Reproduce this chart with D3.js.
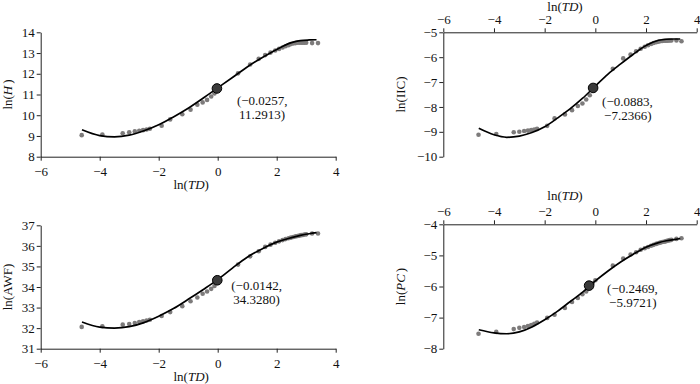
<!DOCTYPE html>
<html lang="zh">

<head>
    <meta charset="UTF-8">
    <title>ln(TD) curves</title>
    <script src="https://cdn.jsdelivr.net/npm/d3@7/dist/d3.min.js"></script>
    <style>
        body { margin: 0; background: #fff; }
    </style>
</head>

<body>
    <script>
        // ln(TD) of the sample points (shared by the four panels)
        var ptX = [-4.61, -3.91, -3.22, -3.0, -2.81, -2.66, -2.53, -2.41, -2.3, -1.9, -1.61, -1.2, -0.92, -0.69, -0.51, -0.36, -0.22, -0.11, 0,
            0.69, 1.1, 1.39, 1.61, 1.79, 1.95, 2.08, 2.2, 2.3, 2.4, 2.48, 2.56, 2.64, 2.71, 2.77, 2.83, 2.89, 2.94, 3.0, 3.2, 3.4];

        var ptH = [9.04, 9.07, 9.13, 9.18, 9.22, 9.25, 9.28, 9.31, 9.35, 9.49, 9.80, 10.05, 10.27, 10.51, 10.62, 10.74, 10.90, 11.05, 11.2,
            12.02, 12.45, 12.72, 12.9, 13.02, 13.12, 13.2, 13.27, 13.33, 13.38, 13.43, 13.46, 13.48, 13.5, 13.5, 13.5, 13.5, 13.5, 13.5, 13.48, 13.48];
        var ptIIC = [-9.12, -9.09, -9.02, -9.0, -8.97, -8.95, -8.93, -8.91, -8.88, -8.76, -8.46, -8.3, -8.13, -7.96, -7.86, -7.70, -7.53, -7.33, -7.15,
            -6.47, -6.05, -5.89, -5.76, -5.66, -5.58, -5.52, -5.47, -5.43, -5.4, -5.38, -5.36, -5.35, -5.34, -5.34, -5.34, -5.33, -5.33, -5.33, -5.33, -5.36];
        var ptAWF = [32.06, 32.09, 32.17, 32.2, 32.25, 32.3, 32.33, 32.37, 32.41, 32.59, 32.78, 33.07, 33.31, 33.49, 33.67, 33.78, 33.91, 34.05, 34.2,
            35.09, 35.49, 35.74, 35.95, 36.06, 36.15, 36.22, 36.28, 36.33, 36.37, 36.4, 36.43, 36.46, 36.48, 36.5, 36.52, 36.53, 36.55, 36.56, 36.6, 36.6];
        var ptPC = [-7.52, -7.46, -7.37, -7.33, -7.3, -7.27, -7.24, -7.2, -7.16, -7.01, -6.91, -6.69, -6.5, -6.37, -6.25, -6.16, -6.05, -5.9, -5.8,
            -5.33, -5.1, -4.97, -4.9, -4.82, -4.77, -4.73, -4.69, -4.66, -4.63, -4.61, -4.59, -4.57, -4.56, -4.55, -4.53, -4.52, -4.51, -4.5, -4.47, -4.45];

        // fitted curve
        var curveX = [-4.6, -4, -3.5, -3, -2.5, -2, -1.5, -1, -0.5, 0, 0.5, 1, 1.5, 2, 2.5, 2.8, 3.1, 3.35];
        var curveH = [9.30, 9.02, 8.96, 9.04, 9.25, 9.54, 9.92, 10.34, 10.82, 11.32, 11.82, 12.33, 12.77, 13.17, 13.50, 13.60, 13.63, 13.64];
        var curveIIC = [-8.86, -9.12, -9.22, -9.17, -9.03, -8.8, -8.45, -8.08, -7.65, -7.16, -6.68, -6.27, -5.88, -5.53, -5.32, -5.28, -5.27, -5.27];
        var curveAWF = [32.3, 32.05, 32.0, 32.07, 32.27, 32.58, 32.95, 33.4, 33.87, 34.36, 34.92, 35.45, 35.85, 36.18, 36.4, 36.51, 36.59, 36.64];
        var curvePC = [-7.39, -7.49, -7.52, -7.46, -7.3, -7.07, -6.8, -6.49, -6.18, -5.82, -5.5, -5.21, -4.96, -4.74, -4.59, -4.53, -4.49, -4.46];

        // inflection points (labelled)
        var inflX = [-0.0257, -0.0883, -0.0142, -0.2469];
        var inflY = [11.2913, -7.2366, 34.3280, -5.9721];

        var xTicks = [-6, -4, -2, 0, 2, 4];
        var yTicksH = [8, 9, 10, 11, 12, 13, 14];
        var yTicksIIC = [-10, -9, -8, -7, -6, -5];
        var yTicksAWF = [31, 32, 33, 34, 35, 36, 37];
        var yTicksPC = [-8, -7, -6, -5, -4];

        var w = 700, h = 384;
        var FONT = "'Liberation Serif', 'Times New Roman', serif";
        var svg = d3.select("body").append("svg")
            .attr("width", w)
            .attr("height", h)
            .attr("font-family", FONT)
            .attr("font-size", 13);

        var minus = function (v) { return String(v).replace("-", "\u2212"); };

        var panels = [
            { py: ptH, cy: curveH, yDom: [8, 14], yTicks: yTicksH, k: 0, top: false,
              x0: 40.7, x1: 335.7, yTop: 32.3, yBot: 156.7, title: ["ln(", "H", ")"],
              titleX: 12, lab: [20, 17], xTitleY: 189 },
            { py: ptIIC, cy: curveIIC, yDom: [-10, -5], yTicks: yTicksIIC, k: 1, top: true,
              x0: 443.3, x1: 696.7, yTop: 32.3, yBot: 156.7, title: ["ln(IIC)"],
              titleX: 405, lab: [9, 18], xTitleY: 11 },
            { py: ptAWF, cy: curveAWF, yDom: [31, 37], yTicks: yTicksAWF, k: 2, top: false,
              x0: 40.7, x1: 335.7, yTop: 225.3, yBot: 348.7, title: ["ln(AWF)"],
              titleX: 12, lab: [14, 10], xTitleY: 381 },
            { py: ptPC, cy: curvePC, yDom: [-8, -4], yTicks: yTicksPC, k: 3, top: true,
              x0: 443.3, x1: 696.7, yTop: 224.3, yBot: 348.7, title: ["ln(", "PC", ")"],
              titleX: 405, lab: [18, 7], xTitleY: 200 }
        ];

        panels.forEach(function (p) {
            var x = d3.scaleLinear().domain([-6, 4]).range([p.x0, p.x1]);
            var y = d3.scaleLinear().domain(p.yDom).range([p.yBot, p.yTop]);
            var g = svg.append("g");

            // axes
            var xAxis = (p.top ? d3.axisTop(x) : d3.axisBottom(x))
                .tickValues(xTicks).tickSize(4).tickSizeOuter(0).tickFormat(minus);
            var yAxis = d3.axisLeft(y).tickValues(p.yTicks).tickSize(4).tickSizeOuter(0).tickFormat(minus);

            var gx = g.append("g")
                .attr("transform", "translate(0," + (p.top ? p.yTop : p.yBot) + ")")
                .call(xAxis);
            var gy = g.append("g")
                .attr("transform", "translate(" + p.x0 + ",0)")
                .call(yAxis);
            [gx, gy].forEach(function (a) {
                a.attr("font-family", FONT).attr("font-size", 13);
                a.select(".domain").attr("stroke", "#222").attr("stroke-width", 1);
                a.selectAll(".tick line").attr("stroke", "#222");
                a.selectAll(".tick text").attr("fill", "#111");
            });
            gx.selectAll("text").attr("dy", p.top ? "-0.1em" : "0.95em");
            gy.selectAll("text").attr("x", -6);

            // x title
            var xt = g.append("text")
                .attr("x", (p.x0 + p.x1) / 2 + (p.top ? -5 : 3))
                .attr("y", p.xTitleY)
                .attr("fill", "#111")
                .attr("text-anchor", "middle");
            xt.append("tspan").text("ln(");
            xt.append("tspan").attr("font-style", "italic").text("TD");
            xt.append("tspan").text(")");

            // y title
            var yt = g.append("text")
                .attr("transform", "translate(" + p.titleX + "," + (p.yTop + p.yBot) / 2 + ") rotate(-90)")
                .attr("fill", "#111")
                .attr("text-anchor", "middle");
            if (p.title.length === 3) {
                yt.append("tspan").text(p.title[0]);
                yt.append("tspan").attr("font-style", "italic").text(p.title[1]);
                yt.append("tspan").attr("dx", 2).text(p.title[2]);
            } else {
                yt.text(p.title[0]);
            }

            // points
            var pts = ptX.map(function (v, i) { return [v, p.py[i]]; });
            g.append("g").selectAll("circle")
                .data(pts)
                .enter()
                .append("circle")
                .attr("cx", function (d) { return x(d[0]); })
                .attr("cy", function (d) { return y(d[1]); })
                .attr("r", 2.3)
                .attr("fill", "#7d7b7b");

            // fitted curve
            var line = d3.line()
                .x(function (d) { return x(d[0]); })
                .y(function (d) { return y(d[1]); })
                .curve(d3.curveMonotoneX);
            g.append("path")
                .datum(curveX.map(function (v, i) { return [v, p.cy[i]]; }))
                .attr("d", line)
                .attr("fill", "none")
                .attr("stroke", "#000")
                .attr("stroke-width", 1.7);

            // inflection point + label
            var ix = x(inflX[p.k]), iy = y(inflY[p.k]);
            g.append("circle")
                .attr("cx", ix)
                .attr("cy", iy)
                .attr("r", 4.8)
                .attr("fill", "#3a3a3a")
                .attr("stroke", "#000")
                .attr("stroke-width", 1);
            g.append("text")
                .attr("x", ix + p.lab[0])
                .attr("y", iy + p.lab[1])
                .attr("fill", "#111")
                .text("(" + minus(inflX[p.k].toFixed(4)) + ",");
            g.append("text")
                .attr("x", ix + p.lab[0] + 2)
                .attr("y", iy + p.lab[1] + 14)
                .attr("fill", "#111")
                .text(minus(inflY[p.k].toFixed(4)) + ")");
        });
    </script>
</body>

</html>
